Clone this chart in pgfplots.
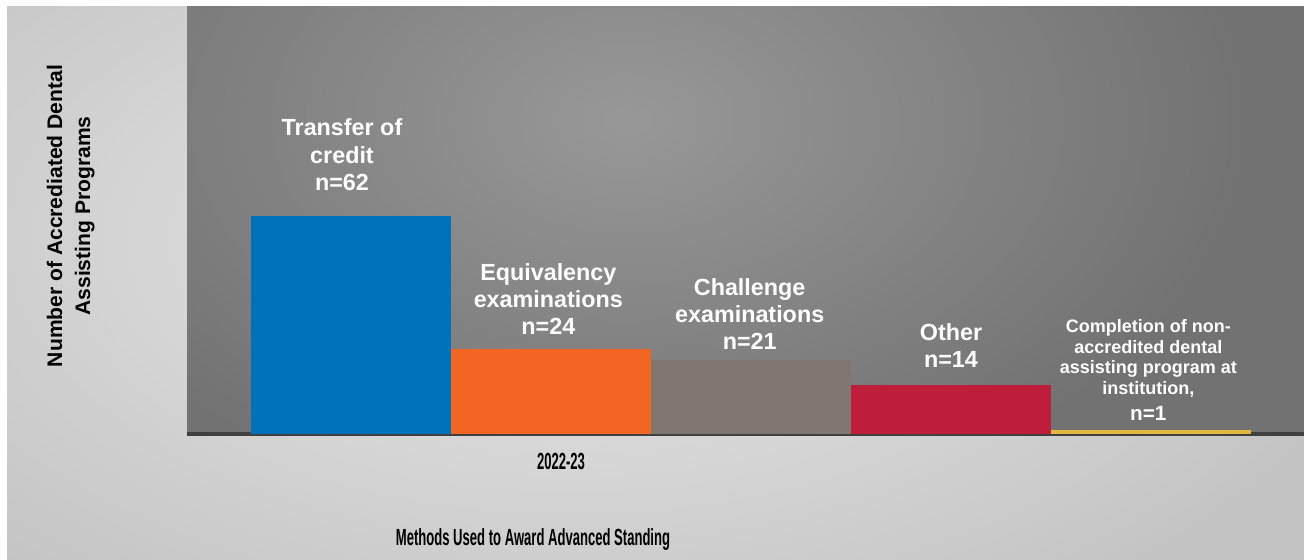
\documentclass[border=0pt]{standalone}
\usepackage{pgfplots}
\pgfplotsset{compat=1.18}
\usepackage{fontspec}
\setmainfont{Liberation Sans}
\newfontfamily\narrowfont[FakeStretch=0.56]{Liberation Sans}

\definecolor{barblue}{RGB}{0,114,188}
\definecolor{barorange}{RGB}{242,102,35}
\definecolor{bargrey}{RGB}{128,119,113}
\definecolor{barred}{RGB}{190,30,58}
\definecolor{baryellow}{RGB}{228,184,64}
\definecolor{outerlight}{RGB}{232,232,232}
\definecolor{outerdark}{RGB}{196,196,196}
\definecolor{plotlight}{RGB}{152,152,152}
\definecolor{plotdark}{RGB}{114,114,114}
\definecolor{axisline}{RGB}{64,64,64}

\begin{document}
\begin{tikzpicture}
% 1 px of the reference = 0.75pt
\useasboundingbox (0,0) rectangle (978pt,420pt);
% outer background
\fill[outerdark] (5.25pt,0) rectangle (978pt,415.5pt);
\begin{scope}
  \clip (5.25pt,0) rectangle (978pt,415.5pt);
  \shade[inner color=outerlight, outer color=outerdark] (430pt,240pt) ellipse (620pt and 330pt);
\end{scope}
% plot area background
\fill[plotdark] (140.25pt,94.5pt) rectangle (978pt,415.5pt);
\begin{scope}
  \clip (140.25pt,94.5pt) rectangle (978pt,415.5pt);
  \shade[inner color=plotlight, outer color=plotdark] (470pt,330pt) ellipse (470pt and 300pt);
\end{scope}

\begin{axis}[
    at={(140.25pt,94.5pt)}, anchor=south west,
    scale only axis,
    width=837.75pt, height=321pt,
    xmin=-564, xmax=553,
    ymin=0, ymax=121.5,
    ybar=0pt, bar width=150pt,
    axis x line=bottom, axis y line=none,
    x axis line style={-, line width=2.6pt, color=axisline},
    xtick=\empty, ytick=\empty,
    nodes near coords,
    every node near coord/.append style={align=center, text=white, anchor=south,
        inner sep=0pt, font=\bfseries\fontsize{17.5}{20.3}\selectfont},
    clip=false,
]
\addplot[fill=barblue, draw=none,
    nodes near coords={Transfer of\\credit\\n=62},
    every node near coord/.append style={yshift=18.75pt, xshift=-6.75pt}]
    coordinates {(0,62)};
\addplot[fill=barorange, draw=none,
    nodes near coords={Equivalency\\examinations\\n=24},
    every node near coord/.append style={yshift=11.25pt, xshift=-2pt}]
    coordinates {(0,24)};
\addplot[fill=bargrey, draw=none,
    nodes near coords={Challenge\\examinations\\n=21},
    every node near coord/.append style={yshift=7.5pt, xshift=-1pt}]
    coordinates {(0,21)};
\addplot[fill=barred, draw=none,
    nodes near coords={Other\\n=14},
    every node near coord/.append style={yshift=12.75pt}]
    coordinates {(0,14)};
\addplot[fill=baryellow, draw=none,
    nodes near coords={Completion of non-\\accredited dental\\assisting program at\\institution,\\[3.5pt]{\fontsize{15.5}{18}\selectfont n=1}},
    every node near coord/.append style={yshift=7.5pt, xshift=-2pt,
        font=\bfseries\fontsize{13.5}{15.6}\selectfont}]
    coordinates {(0,1)};
\end{axis}

% axis titles
\node[rotate=90, align=center, anchor=center,
      font=\bfseries\fontsize{15.8}{21}\selectfont]
      at (53pt,258pt) {Number of Accrediated Dental\\Assisting Programs};
\node[anchor=base, font=\narrowfont\bfseries\fontsize{17.5}{20}\selectfont]
      at (420.75pt,67.5pt) {2022-23};
\node[anchor=base, font=\narrowfont\bfseries\fontsize{17.5}{20}\selectfont]
      at (399.75pt,10.5pt) {Methods Used to Award Advanced Standing};
\fill[white] (0,415.5pt) rectangle (978pt,420pt);
\end{tikzpicture}
\end{document}
